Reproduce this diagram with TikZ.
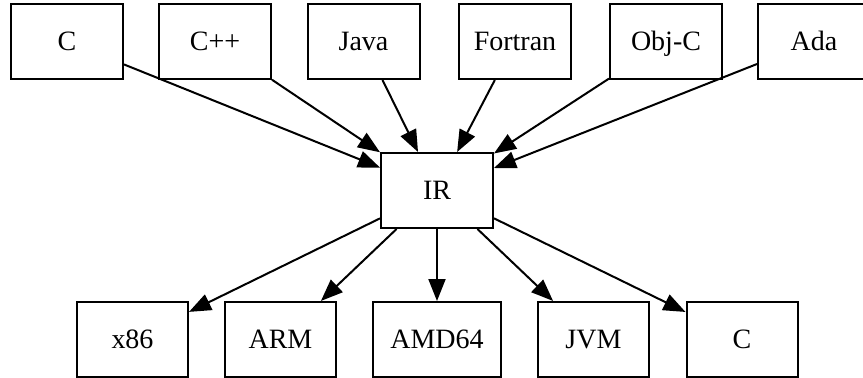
\documentclass[tikz,border=0pt]{standalone}
\usepackage{fontspec}
\setmainfont{Liberation Serif}
\usetikzlibrary{arrows.meta, positioning}

\begin{document}
\begin{tikzpicture}[
    x=0.5pt, y=-0.5pt,
    lang/.style={rectangle, draw=black, line width=1pt, minimum width=56pt, minimum height=37.5pt, inner sep=0pt, text height=11pt, text depth=2.5pt, font=\fontsize{14}{16}\selectfont},
    ir/.style={lang},
    target/.style={lang, minimum width=55.5pt},
    arrow/.style={-{Triangle[length=11pt, width=8.5pt]}, line width=1pt, color=black}
]
\useasboundingbox (0,0) rectangle (863,377);

% Source languages
\node[lang] (c)       at (67,41.5)  {C};
\node[lang] (cpp)     at (215,41.5) {C++};
\node[lang] (java)    at (363.5,41.5) {Java};
\node[lang] (fortran) at (515,41.5) {Fortran};
\node[lang] (objc)    at (666,41.5) {Obj-C};
\node[lang] (ada)     at (814,41.5) {Ada};

% Intermediate representation
\node[ir] (ir) at (437,190.5) {IR};

% Targets
\node[target] (x86)   at (132.5,339.5) {x86};
\node[target] (arm)   at (280.5,339.5) {ARM};
\node[target, minimum width=64pt] (amd64) at (437,339.5) {AMD64};
\node[target] (jvm)   at (593.5,339.5) {JVM};
\node[target] (cout)  at (742,339.5) {C};

% Arrows
\foreach \src in {c, cpp, java, fortran, objc, ada}
    \draw[arrow] (\src) -- (ir);
\foreach \dst in {x86, arm, amd64, jvm, cout}
    \draw[arrow] (ir) -- (\dst);

\end{tikzpicture}
\end{document}
